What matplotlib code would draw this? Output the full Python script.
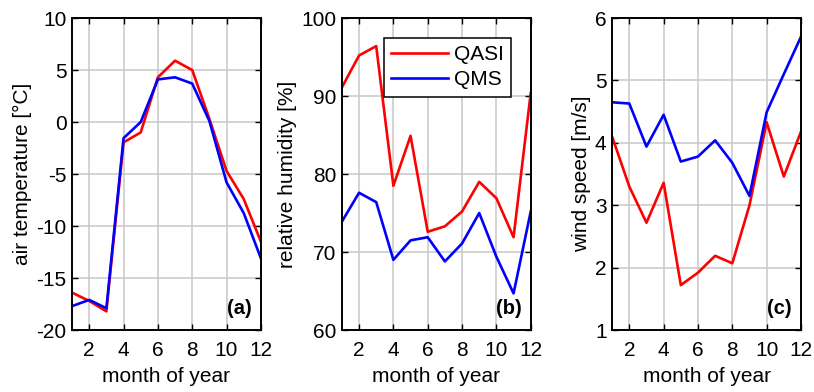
import numpy as np
import matplotlib.pyplot as plt

plt.rcParams['font.family'] = ['Liberation Sans', 'DejaVu Sans']
plt.rcParams['axes.unicode_minus'] = False

months = np.arange(1, 13)

temp_qasi = [-16.4, -17.2, -18.2, -1.95, -1.0, 4.3, 5.9, 5.0, 0.3, -4.7, -7.4, -11.5]
temp_qms = [-17.7, -17.1, -17.9, -1.55, 0.0, 4.1, 4.3, 3.7, 0.1, -5.8, -8.75, -13.1]

rh_qasi = [91.1, 95.2, 96.4, 78.5, 84.9, 72.6, 73.3, 75.2, 79.0, 76.9, 71.9, 90.4]
rh_qms = [73.9, 77.6, 76.4, 69.0, 71.5, 71.9, 68.8, 71.1, 75.0, 69.4, 64.7, 75.2]

ws_qasi = [4.1, 3.3, 2.72, 3.36, 1.72, 1.92, 2.19, 2.07, 3.0, 4.33, 3.46, 4.18]
ws_qms = [4.65, 4.63, 3.94, 4.45, 3.7, 3.78, 4.04, 3.68, 3.15, 4.49, 5.1, 5.7]

panels = [
    (temp_qasi, temp_qms, 'air temperature [°C]', (-20, 10), np.arange(-20, 11, 5), '(a)'),
    (rh_qasi, rh_qms, 'relative humidity [%]', (60, 100), np.arange(60, 101, 10), '(b)'),
    (ws_qasi, ws_qms, 'wind speed [m/s]', (1, 6), np.arange(1, 7, 1), '(c)'),
]

fig = plt.figure(figsize=(8.14, 3.92), dpi=100)
lefts = [0.0885, 0.420, 0.752]
fs = 15

for i, (qasi, qms, ylab, ylim, yticks, tag) in enumerate(panels):
    ax = fig.add_axes([lefts[i], 0.158, 0.232, 0.796])
    ax.plot(months, qasi, color='#ff0000', lw=1.9, label='QASI')
    ax.plot(months, qms, color='#0000ff', lw=1.9, label='QMS')
    ax.set_xlim(1, 12)
    ax.set_ylim(*ylim)
    ax.set_xticks(np.arange(2, 13, 2))
    ax.set_yticks(yticks)
    ax.grid(True, color='#c8c8c8', lw=1.1)
    ax.set_axisbelow(True)
    ax.tick_params(direction='in', top=True, right=True, labelsize=fs, length=4, width=1.0)
    ax.tick_params(axis='x', pad=8)
    ax.tick_params(axis='y', pad=4)
    for s in ax.spines.values():
        s.set_linewidth(1.4)
    ax.set_xlabel('month of year', fontsize=fs, labelpad=5)
    ax.set_ylabel(ylab, fontsize=fs, labelpad=3)
    ax.text(0.95, 0.04, tag, transform=ax.transAxes, ha='right', va='bottom',
            fontsize=14.5, fontweight='bold')
    if i == 1:
        leg = ax.legend(loc='upper right', fontsize=fs, handlelength=2.7,
                        fancybox=False, framealpha=1, edgecolor='black',
                        borderaxespad=0.95, labelspacing=0.3, borderpad=0.35,
                        handletextpad=0.3)
        leg.get_frame().set_linewidth(1.1)

fig.savefig('out.png', dpi=100)
